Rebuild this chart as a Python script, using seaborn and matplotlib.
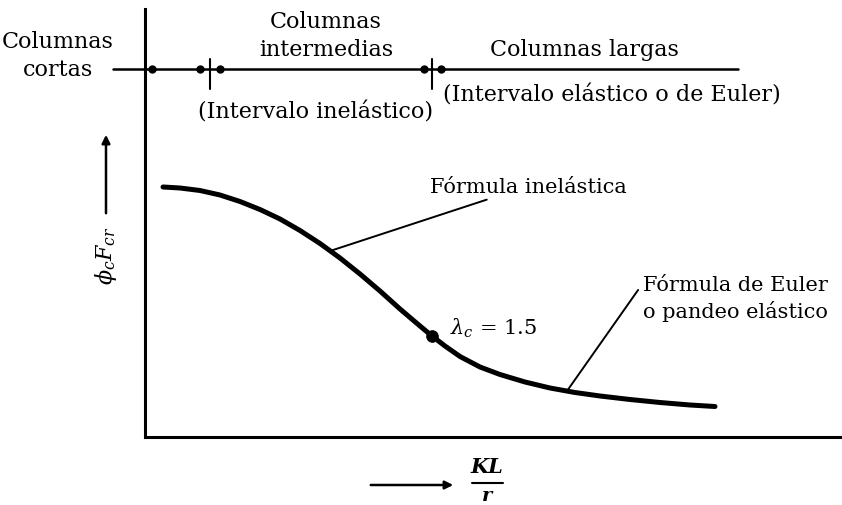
# Imports:

# Pandas:
import pandas as pd

# Matplotlib:
import matplotlib
matplotlib.use("Agg")
import matplotlib.pyplot as plt

# Seaborn:
import seaborn as sns

# Variables (Assignment):
# Curve (diagram units):
curve_x = [163, 180, 200, 220, 240, 260, 280, 300, 320, 340, 360, 380, 400, 420, 432,
           445, 460, 480, 500, 525, 550, 575, 600, 630, 660, 690, 715]
curve_y = [188, 189, 191.5, 196, 202.5, 210.5, 220, 231.5, 244.5, 259, 275, 292, 310, 327, 337,
           347, 357.5, 368, 375.5, 383, 389, 393.5, 397, 400.5, 403.5, 406, 407.5]

# > Lambda point:
lambda_x = [432]
lambda_y = [337]

# > Range scale:
scale_ticks = [210, 432]
scale_dots = [152, 200, 220, 424, 441]

# Dataframe:
dataframe = pd.DataFrame({"x": curve_x, "y": curve_y})

# Style:
sns.set_theme(style="white")
plt.rcParams["font.family"] = ["DejaVu Serif"]
plt.rcParams["mathtext.fontset"] = "dejavuserif"
plt.rcParams["text.color"] = "black"

# Figure:
figure = plt.figure(figsize=(8.42, 5.06), dpi=100)
axes = figure.add_axes([145 / 842, (506 - 438) / 506, (840 - 145) / 842, (438 - 10) / 506])
axes.set_xlim(145, 840)
axes.set_ylim(438, 10)

# Spines:
for side in ["top", "right"]:
    axes.spines[side].set_visible(False)
for side in ["left", "bottom"]:
    axes.spines[side].set_color("black")
    axes.spines[side].set_linewidth(2.2)
axes.set_xticks([])
axes.set_yticks([])

# Curve:
sns.lineplot(
    # Data:
    data=dataframe,

    # X / Y:
    x="x",
    y="y",

    # Style:
    color="black",
    linewidth=3.6,
    sort=False,
    ax=axes
)
axes.lines[-1].set_solid_joinstyle("round")
axes.lines[-1].set_solid_capstyle("round")

# Lambda point:
sns.scatterplot(x=lambda_x, y=lambda_y, color="black", s=70, edgecolor="black", zorder=5, ax=axes)
axes.set_xlabel("")
axes.set_ylabel("")

# Range scale:
axes.plot([113, 738], [70, 70], color="black", linewidth=1.8, clip_on=False)
for tick in scale_ticks:
    axes.plot([tick, tick], [60, 90], color="black", linewidth=1.5, clip_on=False)
axes.plot(scale_dots, [70] * len(scale_dots), "o", color="black", markersize=5, clip_on=False)

# Range labels:
top_size = 16
axes.text(58, 56, "Columnas\ncortas", ha="center", va="center", fontsize=top_size, linespacing=1.3)
axes.text(326, 36, "Columnas\nintermedias", ha="center", va="center", fontsize=top_size, linespacing=1.3)
axes.text(584, 50, "Columnas largas", ha="center", va="center", fontsize=top_size)
axes.text(316, 112, "(Intervalo inelástico)", ha="center", va="center", fontsize=top_size)
axes.text(612, 95, "(Intervalo elástico o de Euler)", ha="center", va="center", fontsize=top_size)

# Curve labels:
inner_size = 15
axes.annotate(
    "Fórmula inelástica", xy=(330, 252), xytext=(430, 187),
    ha="left", va="center", fontsize=inner_size, annotation_clip=False,
    arrowprops=dict(arrowstyle="-", color="black", linewidth=1.4, shrinkA=2, shrinkB=0)
)
axes.annotate(
    "Fórmula de Euler\no pandeo elástico", xy=(567, 392), xytext=(643, 299),
    ha="left", va="center", fontsize=inner_size, linespacing=1.4, annotation_clip=False,
    arrowprops=dict(arrowstyle="-", color="black", linewidth=1.4, shrinkA=2, shrinkB=0,
                    relpos=(0, 0.82))
)
axes.text(450, 328, r"$\lambda_c$ = 1.5", ha="left", va="center", fontsize=inner_size)

# Y label:
axes.text(106, 256, r"$\phi_c F_{cr}$", ha="center", va="center", rotation=90, fontsize=16)
axes.annotate(
    "", xy=(106, 133), xytext=(106, 217), annotation_clip=False,
    arrowprops=dict(arrowstyle="-|>", color="black", linewidth=1.8, mutation_scale=12)
)

# X label:
axes.annotate(
    "", xy=(456, 486), xytext=(368, 486), annotation_clip=False,
    arrowprops=dict(arrowstyle="-|>", color="black", linewidth=1.8, mutation_scale=12)
)
axes.text(487, 467, "KL", ha="center", va="center", fontsize=15, fontstyle="italic", fontweight="bold")
axes.plot([472, 503], [484, 484], color="black", linewidth=1.5, clip_on=False)
axes.text(487, 496, "r", ha="center", va="center", fontsize=14, fontstyle="italic", fontweight="bold")

# Save:
figure.savefig("out.png", dpi=100, facecolor="white")
